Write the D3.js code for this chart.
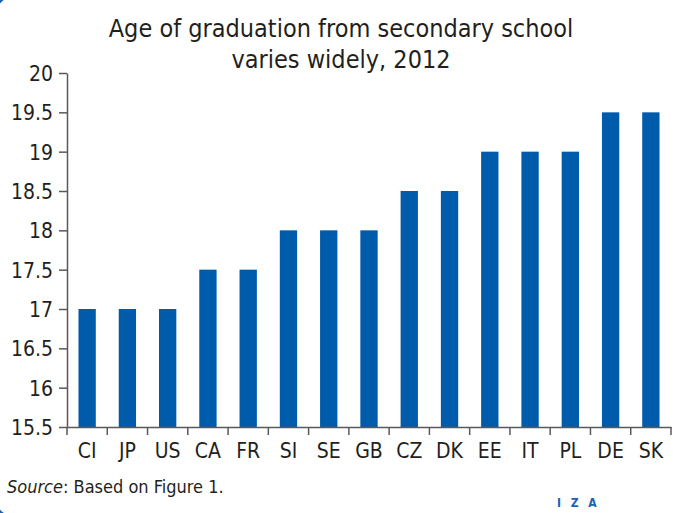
<!DOCTYPE html>
<html>
<head>
<meta charset="utf-8">
<script src="https://cdn.jsdelivr.net/npm/d3@7"></script>
<style>
  body { margin: 0; background: #fff; }
  text { font-family: "Liberation Sans Narrow", "DejaVu Sans Condensed", sans-serif; fill: #231f20; }
</style>
</head>
<body>
<script>
//Data
    const countries = ["CI", "JP", "US", "CA", "FR", "SI", "SE", "GB", "CZ", "DK", "EE", "IT", "PL", "DE", "SK"];
    const ages = [17, 17, 17, 17.5, 17.5, 18, 18, 18, 18.5, 18.5, 19, 19, 19, 19.5, 19.5];
    const yTicks = [15.5, 16, 16.5, 17, 17.5, 18, 18.5, 19, 19.5, 20];
    const titleLines = ["Age of graduation from secondary school", "varies widely, 2012"];

//Set up dimensions
    const width = 675;
    const height = 513;
    const plotLeft = 67, plotRight = 671, plotTop = 73, plotBottom = 427;
    const blue = "#005baa";
    const axisColor = "#58595b";

    const data = countries.map((c, i) => ({ country: c, age: ages[i] }));

//Set up scales
    const xScale = d3.scaleBand()
                    .domain(countries)
                    .range([plotLeft, plotRight])
                    .padding(0);

    const yScale = d3.scaleLinear()
                    .domain([15.5, 20])
                    .range([plotBottom, plotTop]);

    const barW = xScale.bandwidth() * 0.43;

//Make the SVG
    const svg = d3.select("body")
                .append("svg")
                .attr("width", width)
                .attr("height", height);

//Rounded frame (only the corners peek in)
    svg.append("rect")
        .attr("x", -4).attr("y", -3)
        .attr("width", width + 20).attr("height", height + 6)
        .attr("rx", 14)
        .attr("fill", "none")
        .attr("stroke", "#1c63b7")
        .attr("stroke-width", 3);

//Title
    svg.append("g").selectAll("text")
        .data(titleLines)
        .enter()
        .append("text")
        .attr("x", 341)
        .attr("y", (d, i) => 37 + i * 31)
        .attr("text-anchor", "middle")
        .attr("font-size", 25)
        .text(d => d);

//Draw bars
    svg.selectAll("rect.bar")
        .data(data)
        .enter()
        .append("rect")
        .attr("class", "bar")
        .attr("x", d => xScale(d.country) + (xScale.bandwidth() - barW) / 2)
        .attr("y", d => yScale(d.age))
        .attr("width", barW)
        .attr("height", d => plotBottom - yScale(d.age))
        .attr("fill", blue);

//Axes
    const bottomAxis = d3.axisBottom(xScale)
                         .tickSize(0)
                         .tickPadding(12);

    const leftAxis = d3.axisLeft(yScale)
                       .tickValues(yTicks)
                       .tickFormat(d3.format("~g"))
                       .tickSizeInner(8)
                       .tickSizeOuter(0)
                       .tickPadding(6);

    const gx = svg.append("g")
        .attr("transform", "translate(0," + plotBottom + ")")
        .call(bottomAxis);

    // boundary ticks between bands
    const bounds = countries.map(c => xScale(c)).concat([plotRight]);
    gx.selectAll("line.bound")
        .data(bounds)
        .enter()
        .append("line")
        .attr("class", "bound")
        .attr("x1", d => d).attr("x2", d => d)
        .attr("y1", 0).attr("y2", 8);

    const gy = svg.append("g")
        .attr("transform", "translate(" + plotLeft + ",0)")
        .call(leftAxis);

    [gx, gy].forEach(g => {
        g.selectAll("path.domain").attr("stroke", axisColor).attr("stroke-width", 1.5);
        g.selectAll("line").attr("stroke", axisColor).attr("stroke-width", 1.5);
        g.selectAll("text").attr("font-size", 21).attr("fill", "#231f20");
        g.attr("font-family", null);
    });
    gx.selectAll(".tick text").attr("dy", "0.9em");
    gy.selectAll(".tick text").attr("dy", "0.35em");

//Source note
    const src = svg.append("text")
        .attr("x", 7)
        .attr("y", 493)
        .attr("font-size", 18);
    src.append("tspan").attr("font-style", "italic").text("Source");
    src.append("tspan").text(": Based on Figure 1.");

//Logo
    svg.append("text")
        .attr("x", 557)
        .attr("y", 507)
        .attr("font-size", 12)
        .attr("font-weight", "bold")
        .attr("letter-spacing", 3)
        .style("fill", "#1c63b7")
        .text("I Z A");
</script>
</body>
</html>
